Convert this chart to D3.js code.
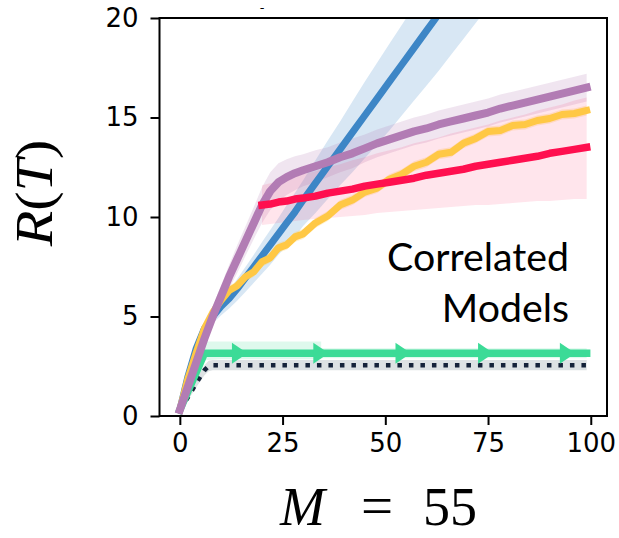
<!DOCTYPE html>
<html><head><meta charset="utf-8">
<script src="https://cdn.jsdelivr.net/npm/d3@7"></script>
<style>html,body{margin:0;padding:0;background:#fff;}svg{display:block;}</style>
</head><body>
<svg id="c" width="619" height="538"></svg>
<script>
// ---------- data ----------
const steps = [0,2,4,6,8,10,12,14,16,18,20,22,24,26,28,30,33,36,39,42,45,48,51,54,57,60,63,66,69,72,75,78,81,84,87,90,93,96,99];

const blueMean = [0.3,2.0,3.4,4.4,5.0,5.5,5.9,6.4,6.95,7.5,8.05,8.6,9.15,9.7,10.25,10.85,11.7,12.55,13.4,14.25,15.1,15.95,16.8,17.65,18.5,19.35,20.2,21.05,21.9,22.75,23.6,24.45,25.3,26.15,27.0,27.85,28.7,29.55,30.4];
const blueHigh = [0.3,2.1,3.6,4.65,5.3,5.85,6.3,6.9,7.5,8.1,8.75,9.35,9.95,10.6,11.2,11.85,12.85,13.85,14.8,15.8,16.8,17.75,18.7,19.65,20.6,21.55,22.5,23.45,24.4,25.35,26.3,27.2,28.1,29.0,29.9,30.8,31.7,32.6,33.5];
const blueLow  = [0.3,1.9,3.15,4.1,4.65,5.05,5.4,5.8,6.25,6.7,7.15,7.6,8.1,8.55,9.0,9.55,10.2,10.9,11.6,12.25,12.95,13.65,14.35,15.1,15.85,16.6,17.35,18.15,18.95,19.75,20.55,21.35,22.15,22.95,23.75,24.55,25.35,26.15,26.95];

const yellowMean = [0.3,1.9,3.2,4.4,5.2,5.8,6.3,6.55,7.0,7.25,7.75,7.95,8.45,8.6,9.0,9.15,9.7,10.05,10.6,10.85,11.25,11.45,11.9,12.15,12.55,12.75,13.15,13.25,13.7,13.95,14.3,14.35,14.6,14.65,14.85,14.95,15.15,15.2,15.35];
const yellowHigh = [0.3,2.0,3.35,4.6,5.4,6.05,6.55,6.8,7.25,7.5,8.0,8.2,8.7,8.85,9.25,9.4,9.95,10.3,10.85,11.1,11.5,11.7,12.15,12.4,12.8,13.0,13.4,13.5,13.95,14.2,14.55,14.6,14.85,14.9,15.1,15.2,15.4,15.45,15.6];
const yellowLow  = [0.3,1.8,3.05,4.2,5.0,5.55,6.05,6.3,6.75,7.0,7.5,7.7,8.2,8.35,8.75,8.9,9.45,9.8,10.35,10.6,11.0,11.2,11.65,11.9,12.3,12.5,12.9,13.0,13.45,13.7,14.05,14.1,14.35,14.4,14.6,14.7,14.9,14.95,15.1];

const purpleMean = [0.3,1.5,2.7,3.9,5.0,6.0,7.0,7.9,8.8,9.7,10.6,11.3,11.75,12.0,12.2,12.35,12.55,12.75,13.0,13.2,13.45,13.7,13.9,14.1,14.3,14.45,14.65,14.8,14.95,15.1,15.25,15.45,15.6,15.75,15.9,16.05,16.2,16.35,16.5];
const purpleHigh = [0.3,1.7,3.0,4.3,5.5,6.55,7.6,8.6,9.55,10.5,11.5,12.25,12.7,12.9,13.05,13.15,13.35,13.5,13.75,13.95,14.15,14.4,14.6,14.8,15.0,15.15,15.35,15.5,15.65,15.8,15.95,16.15,16.3,16.45,16.6,16.75,16.9,17.05,17.2];
const purpleLow  = [0.3,1.3,2.4,3.5,4.5,5.45,6.4,7.2,8.05,8.9,9.7,10.35,10.8,11.1,11.35,11.55,11.75,12.0,12.25,12.45,12.75,13.0,13.2,13.4,13.6,13.75,13.95,14.1,14.25,14.4,14.55,14.75,14.9,15.05,15.2,15.35,15.5,15.65,15.8];

const redX    = [20,22,24,26,28,30,33,36,39,42,45,48,51,54,57,60,63,66,69,72,75,78,81,84,87,90,93,96,99];
const redMean = [10.6,10.65,10.75,10.8,10.9,10.95,11.05,11.2,11.3,11.4,11.55,11.65,11.75,11.85,11.95,12.1,12.2,12.3,12.4,12.55,12.65,12.75,12.85,12.95,13.05,13.2,13.3,13.4,13.5];
const redHigh = [11.6,11.7,11.8,11.95,12.05,12.15,12.3,12.5,12.65,12.85,13.0,13.2,13.35,13.5,13.7,13.85,14.0,14.2,14.35,14.5,14.65,14.85,15.0,15.15,15.35,15.5,15.65,15.85,16.0];
const redLow  = [9.6,9.65,9.7,9.75,9.8,9.85,9.9,9.95,10.0,10.05,10.1,10.2,10.25,10.3,10.35,10.4,10.45,10.5,10.55,10.6,10.6,10.65,10.7,10.75,10.8,10.8,10.85,10.9,10.9];

const greenX    = [0,2,4,6,10,20,30,34.4,34.4,50,70,99];
const greenMean = [0.3,1.25,2.2,3.15,3.15,3.15,3.15,3.15,3.15,3.15,3.15,3.15];
const greenHigh = [0.3,1.5,2.6,3.75,3.75,3.75,3.75,3.75,3.4,3.4,3.4,3.4];
const greenLow  = [0.3,1.0,1.85,2.8,2.85,2.85,2.85,2.85,2.9,2.9,2.9,2.9];
const greenMarkers = [14.5,34.3,54.3,74.4,94.3];

const dotX    = [0,2,4,6,7,8,10,20,40,60,80,99];
const dotMean = [0.3,0.95,1.65,2.3,2.5,2.55,2.55,2.55,2.55,2.55,2.55,2.55];
const dotHigh = [0.3,1.1,1.85,2.55,2.78,2.82,2.82,2.82,2.82,2.82,2.82,2.82];
const dotLow  = [0.3,0.8,1.45,2.05,2.25,2.3,2.3,2.3,2.3,2.3,2.3,2.3];

const xTicks = [0,25,50,75,100];
const yTicks = [0,5,10,15,20];
const annotationLines = ["Correlated","Models"];
const titleText = "-";

// ---------- layout ----------
const svg = d3.select("#c");
const L = 159.5, R = 607, T = 18, B = 416;
const x = d3.scaleLinear().domain([-4.95, 103.95]).range([L, R]);
const y = d3.scaleLinear().domain([0, 20]).range([B, T]);

svg.append("defs").append("clipPath").attr("id","clip")
  .append("rect").attr("x",L).attr("y",T).attr("width",R-L).attr("height",B-T);
const plot = svg.append("g").attr("clip-path","url(#clip)");

const COL = {blue:"#3d86c6", yellow:"#ffc845", purple:"#b27cb4", red:"#ff0f4f", green:"#3cdb97", dot:"#15233a"};

function band(xs, lo, hi, color, op){
  const d = xs.map((v,i)=>({x:v,lo:lo[i],hi:hi[i]}));
  plot.append("path").datum(d)
    .attr("d", d3.area().x(p=>x(p.x)).y0(p=>y(p.lo)).y1(p=>y(p.hi)))
    .attr("fill", color).attr("fill-opacity", op).attr("stroke","none");
}
function line(xs, ys, color, w, dash){
  const d = xs.map((v,i)=>({x:v,y:ys[i]}));
  const p = plot.append("path").datum(d)
    .attr("d", d3.line().x(q=>x(q.x)).y(q=>y(q.y)))
    .attr("fill","none").attr("stroke",color).attr("stroke-width",w)
    .attr("stroke-linejoin","round").attr("stroke-linecap", dash ? "butt" : "square");
  if (dash) p.attr("stroke-dasharray", dash);
  return p;
}

// bands
band(greenX, greenLow, greenHigh, COL.green, 0.17);
band(dotX, dotLow, dotHigh, "#1a3a4a", 0.15);
band(steps, blueLow, blueHigh, COL.blue, 0.2);
band(steps, yellowLow, yellowHigh, COL.yellow, 0.25);
band(steps, purpleLow, purpleHigh, COL.purple, 0.2);
band(redX, redLow, redHigh, COL.red, 0.11);

// lines
line(dotX, dotMean, COL.dot, 4.5, "4.5,7");
line(greenX.filter((v,i)=>i!==8), greenMean.filter((v,i)=>i!==8), COL.green, 7.5);
plot.selectAll("path.tri").data(greenMarkers).enter().append("path")
  .attr("class","tri")
  .attr("d", d=>{const cx=x(d), cy=y(3.15); return `M${cx+8},${cy} L${cx-7.5},${cy-10.5} L${cx-7.5},${cy+10.5} Z`;})
  .attr("fill", COL.green);
line(steps, blueMean, COL.blue, 7);
line(steps, yellowMean, COL.yellow, 7);
line(steps, purpleMean, COL.purple, 8);
line(redX, redMean, COL.red, 7.5);

// spines
svg.append("rect").attr("x",L).attr("y",T).attr("width",R-L).attr("height",B-T)
  .attr("fill","none").attr("stroke","#000").attr("stroke-width",2);

// axes
const xAxis = svg.append("g").attr("transform",`translate(0,${B})`)
  .call(d3.axisBottom(x).tickValues(xTicks).tickSize(9).tickPadding(8));
const yAxis = svg.append("g").attr("transform",`translate(${L},0)`)
  .call(d3.axisLeft(y).tickValues(yTicks).tickSize(9).tickPadding(12));
[xAxis,yAxis].forEach(a=>{
  a.select(".domain").remove();
  a.selectAll(".tick line").attr("stroke","#000").attr("stroke-width",2);
  a.selectAll(".tick text").attr("fill","#000")
    .style("font-family","'DejaVu Sans'").style("font-size","26px");
});
xAxis.selectAll(".tick text").attr("dy","0.72em");

// y label (stretched slightly along its length to match the wider math font)
const yl = svg.append("text")
  .attr("transform","translate(52,193) rotate(-90) scale(1.12,1)")
  .attr("text-anchor","middle")
  .style("font-family","'Liberation Serif'").style("font-size","52px");
yl.append("tspan").style("font-style","italic").text("R");
yl.append("tspan").text("(");
yl.append("tspan").style("font-style","italic").text("T");
yl.append("tspan").text(")");

// x label
const xl = svg.append("text")
  .attr("y",525)
  .style("font-family","'Liberation Serif'").style("font-size","54px");
xl.append("tspan").attr("x",280).style("font-style","italic").text("M");
xl.append("tspan").attr("x",361).style("font-size","57px").text("=");
xl.append("tspan").attr("x",423).text("55");

// annotation
const ann = svg.append("g");
annotationLines.forEach((s,i)=>{
  ann.append("text").attr("x",569).attr("y",270.5 + i*51)
    .attr("text-anchor","end")
    .style("font-family","Lato").style("font-size","40px").attr("fill","#000").text(s);
});
const w0 = ann.select("text").node().getComputedTextLength();
const fs = 40 * 182 / w0;
ann.selectAll("text").style("font-size", fs + "px");

// stray title mark
svg.append("text").attr("x",262).attr("y",12).attr("text-anchor","middle")
  .style("font-family","'DejaVu Sans'").style("font-size","13px").text(titleText);
</script>
</body></html>
